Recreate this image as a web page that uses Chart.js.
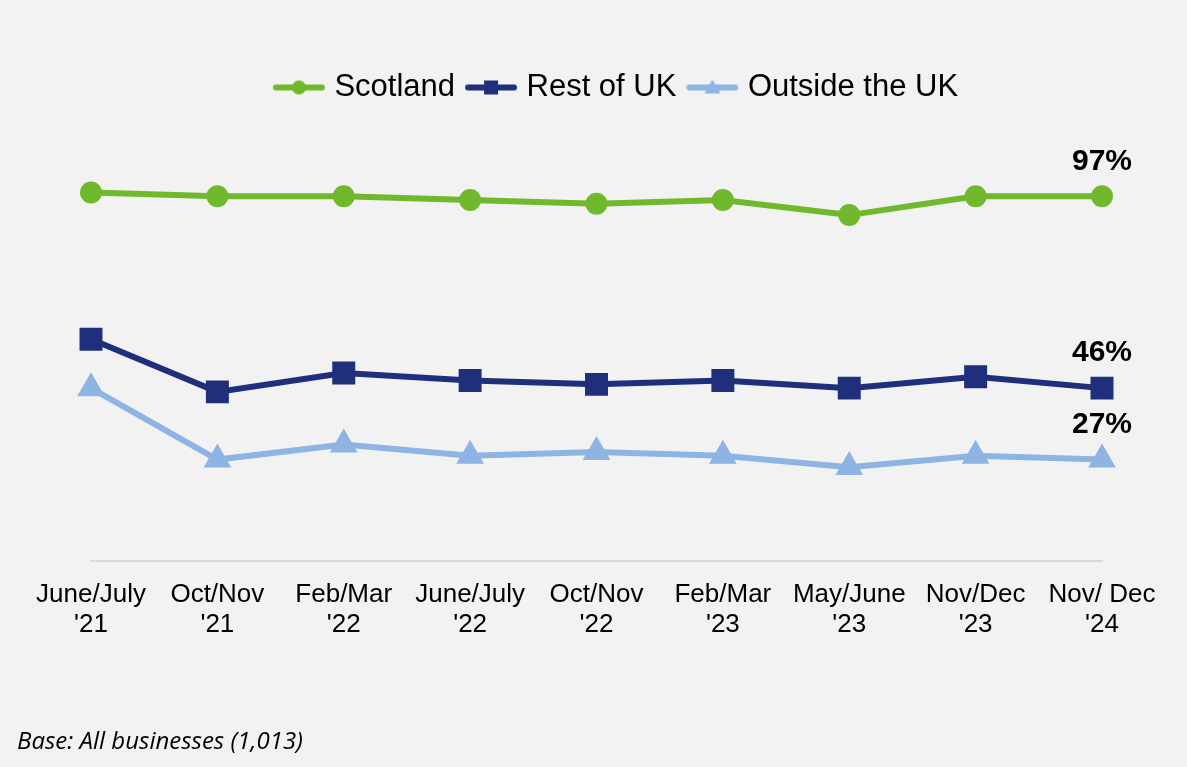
<!DOCTYPE html>
<html>
<head>
<meta charset="utf-8">
<script src="https://cdn.jsdelivr.net/npm/chart.js@4.4.1/dist/chart.umd.min.js"></script>
<style>
  html, body { margin: 0; padding: 0; background: #f2f2f2; }
  #wrap { position: relative; width: 1187px; height: 767px; }
  #base { position: absolute; left: 17px; top: 728px; line-height: 24px; font-family: "Open Sans", sans-serif; font-style: italic; font-size: 24px; color: #000; }
</style>
</head>
<body>
<div id="wrap">
  <canvas id="line-chart" width="1187" height="767"></canvas>
  <div id="base">Base: All businesses (1,013)</div>
</div>
<script>
var waves = [["June/July", "'21"], ["Oct/Nov", "'21"], ["Feb/Mar", "'22"], ["June/July", "'22"], ["Oct/Nov", "'22"],
             ["Feb/Mar", "'23"], ["May/June", "'23"], ["Nov/Dec", "'23"], ["Nov/ Dec", "'24"]];
var scotland = [98, 97, 97, 96, 95, 96, 92, 97, 97];
var restOfUK = [59, 45, 50, 48, 47, 48, 46, 49, 46];
var outsideUK = [46, 27, 31, 28, 29, 28, 25, 28, 27];

var green = '#70b82c', navy = '#1f2f7c', sky = '#8eb4e3';
var arial = 'Arial, "Liberation Sans", sans-serif';

// legend swatch: line with the marker on it (drawn offset so the text sits close)
function swatch(color, shape) {
    var c = document.createElement('canvas');
    c.width = 58; c.height = 20;
    var g = c.getContext('2d');
    g.strokeStyle = color; g.fillStyle = color;
    g.lineWidth = 6; g.lineCap = 'round';
    g.beginPath(); g.moveTo(9, 10); g.lineTo(55, 10); g.stroke();
    g.beginPath();
    if (shape === 'circle') g.arc(32, 10, 7, 0, Math.PI * 2);
    else if (shape === 'rect') g.rect(25, 3, 14, 14);
    else { g.moveTo(32, 2); g.lineTo(40, 16); g.lineTo(24, 16); g.closePath(); }
    g.fill();
    return c;
}

// extra room under the legend, and nudge it right like the original
var legendSpace = {
    id: 'legendSpace',
    beforeInit: function (chart) {
        var fit = chart.legend.fit;
        chart.legend.fit = function () {
            fit.bind(chart.legend)();
            this.height += 72;
        };
    },
    afterLayout: function (chart) {
        chart.legend.left += 19;
        chart.legend.right += 19;
    }
};

// end-of-line value labels
var endLabels = {
    id: 'endLabels',
    afterDatasetsDraw: function (chart) {
        var ctx = chart.ctx;
        ctx.save();
        ctx.font = 'bold 30px ' + arial;
        ctx.fillStyle = '#000';
        ctx.textAlign = 'center';
        ctx.textBaseline = 'middle';
        chart.data.datasets.forEach(function (ds, i) {
            var meta = chart.getDatasetMeta(i);
            var last = meta.data[meta.data.length - 1];
            ctx.fillText(ds.data[ds.data.length - 1] + '%', last.x, last.y - 35);
        });
        ctx.restore();
    }
};

new Chart(document.getElementById('line-chart'), {
    type: 'line',
    data: {
        labels: waves,
        datasets: [{
            label: 'Scotland',
            data: scotland,
            borderColor: green, backgroundColor: green,
            borderWidth: 6, pointStyle: 'circle', pointRadius: 8, pointHoverRadius: 8, clip: false
        }, {
            label: 'Rest of UK',
            data: restOfUK,
            borderColor: navy, backgroundColor: navy,
            borderWidth: 6, pointStyle: 'rect', pointRadius: 12, pointHoverRadius: 12, clip: false
        }, {
            label: 'Outside the UK',
            data: outsideUK,
            borderColor: sky, backgroundColor: sky,
            borderWidth: 6, pointStyle: 'triangle', pointRadius: 10, pointHoverRadius: 10, clip: false
        }]
    },
    options: {
        responsive: false,
        animation: false,
        layout: { padding: { top: 62, left: 91, right: 85, bottom: 117 } },
        plugins: {
            tooltip: { enabled: false },
            legend: {
                position: 'top',
                labels: {
                    usePointStyle: true,
                    pointStyleWidth: 46,
                    padding: 10,
                    color: '#000',
                    font: { family: arial, size: 31 },
                    generateLabels: function (chart) {
                        var shapes = ['circle', 'rect', 'triangle'];
                        return chart.data.datasets.map(function (ds, i) {
                            return {
                                text: ds.label,
                                pointStyle: swatch(ds.borderColor, shapes[i]),
                                fillStyle: ds.borderColor,
                                strokeStyle: ds.borderColor,
                                lineWidth: 0,
                                fontColor: '#000',
                                datasetIndex: i
                            };
                        });
                    }
                }
            }
        },
        scales: {
            x: {
                offset: false,
                grid: { display: false },
                border: { display: true, color: '#d9d9d9', width: 2 },
                ticks: {
                    color: '#000',
                    padding: 10,
                    maxRotation: 0,
                    autoSkip: false,
                    font: { family: arial, size: 26, lineHeight: 1.17 }
                }
            },
            y: {
                display: false,
                min: 0,
                max: 100
            }
        }
    },
    plugins: [legendSpace, endLabels]
});
</script>
</body>
</html>
